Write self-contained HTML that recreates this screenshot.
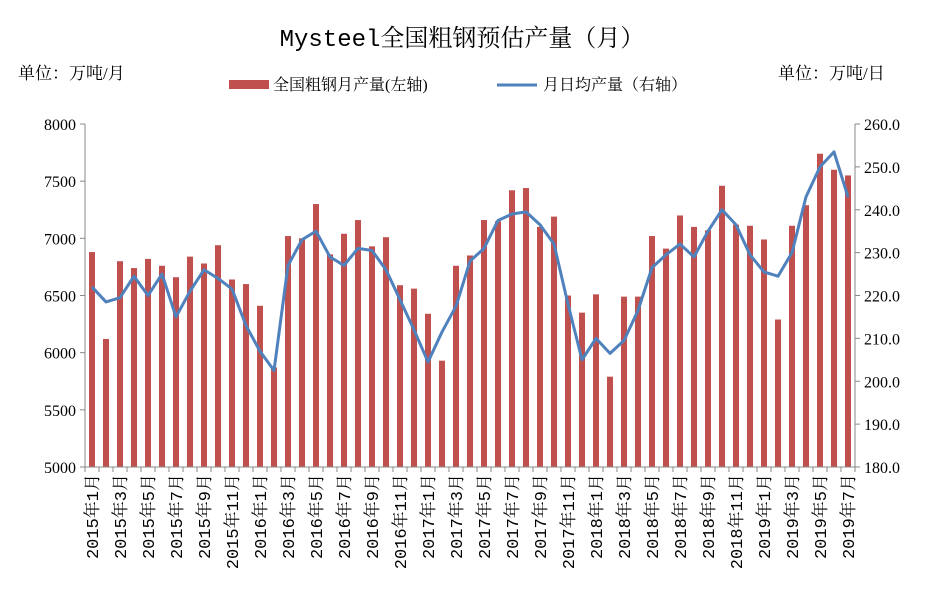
<!DOCTYPE html>
<html><head><meta charset="utf-8"><style>
body{margin:0;background:#fff;}
svg text{font-family:"Liberation Serif","Noto Serif CJK SC",serif;fill:#000;}
svg text.mono{font-family:"Liberation Mono","Noto Serif CJK SC",monospace;}
</style></head><body>
<svg id="chart" width="933" height="586" viewBox="0 0 933 586" xmlns="http://www.w3.org/2000/svg">
<text class="mono" x="462" y="46" font-size="24" text-anchor="middle">Mysteel全国粗钢预估产量（月）</text>
<text x="18" y="79" font-size="17">单位：万吨/月</text>
<text x="778" y="79" font-size="17">单位：万吨/日</text>
<g>
<rect x="229" y="80" width="40" height="9" fill="#c0504d"/>
<text x="273" y="90" font-size="16">全国粗钢月产量(左轴)</text>
<line x1="497" y1="85" x2="537" y2="85" stroke="#4f81bd" stroke-width="3"/>
<text x="543" y="90" font-size="16">月日均产量（右轴）</text>
</g>
<g id="plot"></g>
</svg>
<script>
const categories=[];
for(let y=2015;y<=2019;y++){for(let m=1;m<=12;m++){if(y===2019&&m>7)break;categories.push(y+"年"+m+"月");}}
const monthlyOutput=[6880,6120,6800,6740,6820,6760,6660,6840,6780,6940,6640,6600,
6410,5870,7020,7000,7300,6860,7040,7160,6930,7010,6590,6560,
6340,5930,6760,6850,7160,7150,7420,7440,7100,7190,6500,6350,
6510,5790,6490,6490,7020,6910,7200,7100,7070,7460,7120,7110,
6990,6290,7110,7290,7740,7600,7550];
const dailyOutput=[222,218.5,219.5,224.5,220,225,215,221,226,224,221.5,213,
207,202.5,227,233,235,229,227,231,230.5,226,219,212,
204.5,211.5,217.5,228,231,237.5,239,239.5,236.5,232,218,205,
210,206.5,209.5,216.5,226.5,229.5,232,229,235,240,236.5,229.5,
225.5,224.5,230,243,250,253.5,243];
const leftTicks=[5000,5500,6000,6500,7000,7500,8000];
const rightTicks=[180,190,200,210,220,230,240,250,260];
const X0=85,X1=855,Y0=467,Y1=124;
const n=categories.length,step=(X1-X0)/n;
const xc=i=>X0+step*(i+0.5);
const yL=v=>Y0-(v-5000)/3000*(Y0-Y1);
const yR=v=>Y0-(v-180)/80*(Y0-Y1);
const NS="http://www.w3.org/2000/svg";
const g=document.getElementById('plot');
function mk(t,a){const e=document.createElementNS(NS,t);for(const k in a)e.setAttribute(k,a[k]);g.appendChild(e);return e;}
monthlyOutput.forEach((v,i)=>{
const r=mk('rect',{x:xc(i)-3,y:yL(v),width:6,height:Y0-yL(v),fill:'#c0504d'});


});
const p=mk('polyline',{points:dailyOutput.map((v,i)=>xc(i)+','+yR(v)).join(' '),fill:'none',stroke:'#4f81bd','stroke-width':3,'stroke-linejoin':'round'});


const axes=mk('path',{d:`M${X0},${Y1}V${Y0}H${X1}V${Y1}`,fill:'none',stroke:'#888','stroke-width':1});


leftTicks.forEach(v=>{
const t=mk('line',{x1:X0-5,x2:X0,y1:yL(v),y2:yL(v),stroke:'#888'});


const l=mk('text',{x:X0-9,y:yL(v)+6,'font-size':16,'text-anchor':'end'});l.textContent=v;


});
rightTicks.forEach(v=>{
const t=mk('line',{x1:X1,x2:X1+5,y1:yR(v),y2:yR(v),stroke:'#888'});


const l=mk('text',{x:X1+9,y:yR(v)+6,'font-size':16});l.textContent=v.toFixed(1);


});
for(let i=0;i<=n;i++){
const t=mk('line',{x1:X0+step*i,x2:X0+step*i,y1:Y0,y2:Y0+5,stroke:'#888'});


}
categories.forEach((c,i)=>{
if(i%2)return;
const l=mk('text',{x:0,y:0,'font-size':17,'text-anchor':'end',class:'mono',transform:`translate(${xc(i)+6},${Y0+7}) rotate(-90)`});
l.textContent=c;


});
</script>
</body></html>
